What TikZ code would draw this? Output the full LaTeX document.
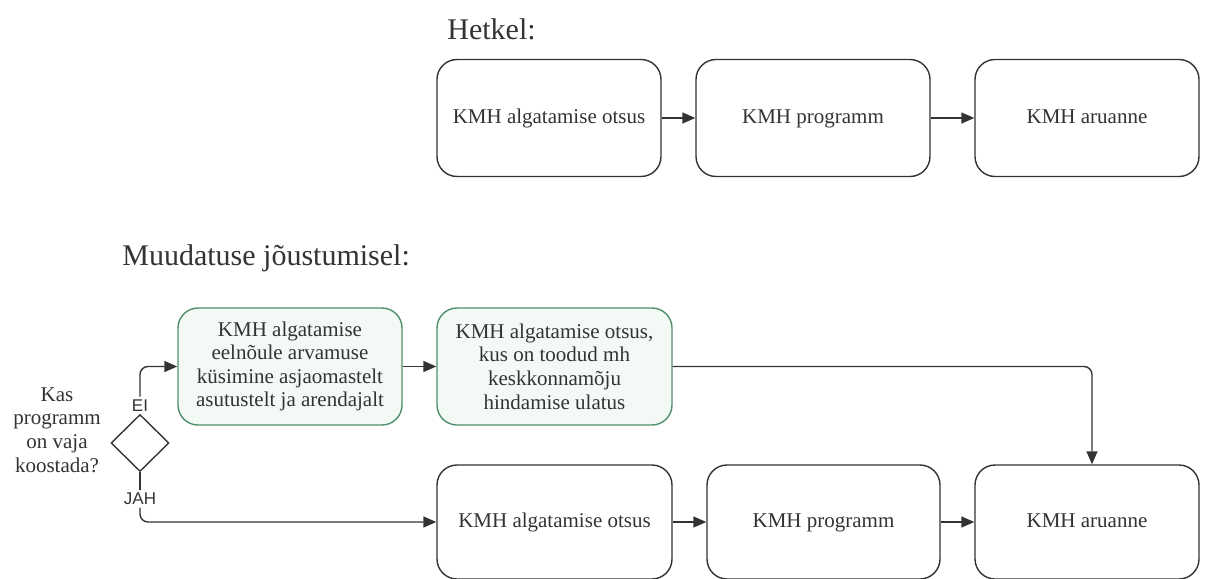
\documentclass[tikz,border=0pt]{standalone}
\usepackage{fontspec}
\setmainfont{Liberation Serif}
\setsansfont{Liberation Sans}
\usetikzlibrary{shapes.geometric,arrows.meta}
\definecolor{kmhInk}{HTML}{333333}
\definecolor{kmhGreen}{HTML}{4f8f6c}
\definecolor{kmhMint}{HTML}{f3faf6}

\begin{document}
\begin{tikzpicture}[x=0.5pt, y=-0.5pt, line width=0.7pt,
    box/.style={draw=kmhInk, fill=white, rounded corners=10pt, minimum width=112pt, minimum height=58.5pt, align=center, text=kmhInk, font=\fontsize{10.5}{11.8}\selectfont},
    oneline/.style={text height=7.4pt, text depth=2.3pt},
    greenbox/.style={box, draw=kmhGreen, fill=kmhMint},
    heading/.style={anchor=west, text=kmhInk, font=\fontsize{15}{18}\selectfont},
    answer/.style={inner sep=1pt, text=kmhInk, font=\sffamily\fontsize{8.5}{10}\selectfont},
    arr/.style={draw=kmhInk, -{Triangle[length=6.5pt, width=5.5pt]}}]
    \useasboundingbox (0, 0) rectangle (1209, 578);

    \node[heading] (now) at (440, 29) {Hetkel:};
    \node[box, oneline] (t1) at (549, 118) {KMH algatamise otsus};
    \node[box, oneline, minimum width=117pt] (t2) at (813, 118) {KMH programm};
    \node[box, oneline] (t3) at (1087, 118) {KMH aruanne};
    \draw[arr] (t1) -- (t2);
    \draw[arr] (t2) -- (t3);

    \node[heading] (later) at (115, 258) {Muudatuse jõustumisel:};
    \node[text=kmhInk, align=center, font=\fontsize{10.5}{11.8}\selectfont] (ask) at (57, 430) {Kas\\programm\\on vaja\\koostada?};
    \node[draw=kmhInk, diamond, inner sep=0pt, minimum width=29pt, minimum height=28.5pt] (dec) at (140, 443) {};
    \node[answer, anchor=south] (ei) at (dec.north) {EI};
    \node[answer] (jah) at (140, 499) {JAH};
    \node[greenbox] (g1) at (290, 366.5) {KMH algatamise\\eelnõule arvamuse\\küsimine asjaomastelt\\asutustelt ja arendajalt};
    \node[greenbox, minimum width=117.5pt] (g2) at (554.5, 366.5) {KMH algatamise otsus,\\kus on toodud mh\\keskkonnamõju\\hindamise ulatus};
    \node[box, oneline, minimum width=117.5pt, minimum height=57pt] (b1) at (554.5, 522) {KMH algatamise otsus};
    \node[box, oneline, minimum width=116.5pt, minimum height=57pt] (b2) at (823.5, 522) {KMH programm};
    \node[box, oneline, minimum height=57pt] (b3) at (1087, 522) {KMH aruanne};
    \coordinate (bend) at (1092, 366.5);

    \draw[arr, rounded corners=4pt] (ei.north) |- (g1.west);
    \draw[arr] (g1) -- (g2);
    \draw[arr, rounded corners=4pt] (g2.east) -- (bend) -- (bend |- b3.north);
    \draw[draw=kmhInk] (dec.south) -- (jah.north);
    \draw[arr, rounded corners=4pt] (jah.south) |- (b1.west);
    \draw[arr] (b1) -- (b2);
    \draw[arr] (b2) -- (b3);
\end{tikzpicture}
\end{document}
